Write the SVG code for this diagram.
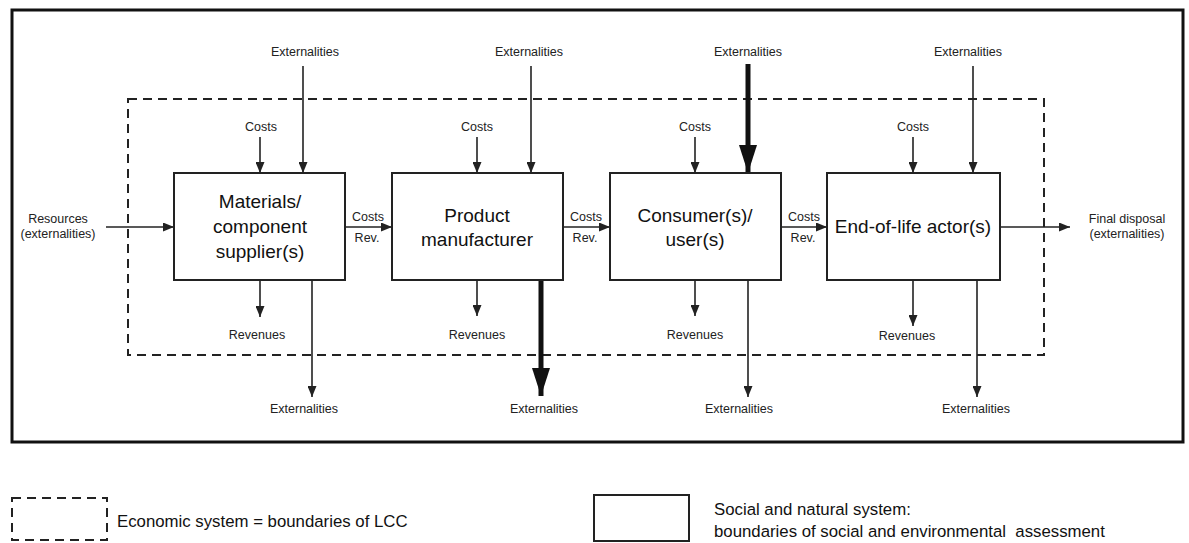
<svg xmlns="http://www.w3.org/2000/svg" width="1189" height="543" viewBox="0 0 1189 543">
  <defs>
    <style>
      .frame { fill: none; stroke: #111; stroke-width: 3; }
      .econ { fill: none; stroke: #222; stroke-width: 2; stroke-dasharray: 9 6; }
      .box { fill: #fff; stroke: #222; stroke-width: 2; }
      .flow { fill: none; stroke: #222; stroke-width: 1.6; marker-end: url(#arrow); }
      .heavy { fill: none; stroke: #111; stroke-width: 5; marker-end: url(#arrowBig); }
      .lbl { font-family: "Liberation Sans", Arial, sans-serif; font-size: 12.5px; fill: #222; text-anchor: middle; }
      .name { font-family: "Liberation Sans", Arial, sans-serif; font-size: 19px; fill: #111; text-anchor: middle; }
      .legend { font-family: "Liberation Sans", Arial, sans-serif; font-size: 16.8px; fill: #111; }
    </style>
    <marker id="arrow" markerUnits="userSpaceOnUse" markerWidth="12" markerHeight="9" refX="11" refY="4.5" orient="auto">
      <path d="M0,0 L11,4.5 L0,9 Z" fill="#222"/>
    </marker>
    <marker id="arrowBig" markerUnits="userSpaceOnUse" markerWidth="28" markerHeight="18" refX="28" refY="9" orient="auto">
      <path d="M0,0 L28,9 L0,18 Z" fill="#111"/>
    </marker>
  </defs>

  <rect width="1189" height="543" fill="#fff"/>

  <!-- social and natural system boundary -->
  <rect id="social-system" class="frame" x="12" y="10" width="1171" height="432"/>

  <!-- economic system boundary (LCC) -->
  <rect id="economic-system" class="econ" x="128" y="99" width="916" height="256"/>

  <!-- connectors -->
  <g id="connectors">
    <!-- inputs from outside -->
    <line class="flow" x1="106" y1="227" x2="174" y2="227"/>
    <line class="flow" x1="1000" y1="227" x2="1070" y2="227"/>
    <!-- chain links between actors -->
    <line class="flow" x1="345" y1="227" x2="392" y2="227"/>
    <line class="flow" x1="563" y1="227" x2="610" y2="227"/>
    <line class="flow" x1="781" y1="227" x2="827" y2="227"/>

    <!-- costs in -->
    <line class="flow" x1="260" y1="137" x2="260" y2="173"/>
    <line class="flow" x1="477" y1="137" x2="477" y2="173"/>
    <line class="flow" x1="695" y1="137" x2="695" y2="173"/>
    <line class="flow" x1="913" y1="137" x2="913" y2="173"/>

    <!-- externalities in -->
    <line class="flow" x1="303" y1="66" x2="303" y2="173"/>
    <line class="flow" x1="531" y1="66" x2="531" y2="173"/>
    <line class="heavy" x1="748" y1="64" x2="748" y2="173"/>
    <line class="flow" x1="973" y1="66" x2="973" y2="173"/>

    <!-- revenues out -->
    <line class="flow" x1="260" y1="280" x2="260" y2="317"/>
    <line class="flow" x1="477" y1="280" x2="477" y2="316"/>
    <line class="flow" x1="695" y1="280" x2="695" y2="316"/>
    <line class="flow" x1="913" y1="280" x2="913" y2="326"/>

    <!-- externalities out -->
    <line class="flow" x1="312" y1="280" x2="312" y2="397"/>
    <line class="heavy" x1="541" y1="278" x2="541" y2="396"/>
    <line class="flow" x1="748" y1="280" x2="748" y2="397"/>
    <line class="flow" x1="977" y1="280" x2="977" y2="397"/>
  </g>

  <!-- actors -->
  <g id="supplier">
    <rect class="box" x="174" y="173" width="171" height="107"/>
    <text class="name" x="260" y="208">Materials/</text>
    <text class="name" x="260" y="233">component</text>
    <text class="name" x="260" y="258">supplier(s)</text>
  </g>
  <g id="manufacturer">
    <rect class="box" x="392" y="173" width="171" height="107"/>
    <text class="name" x="477" y="222">Product</text>
    <text class="name" x="477" y="246">manufacturer</text>
  </g>
  <g id="consumer">
    <rect class="box" x="610" y="173" width="171" height="107"/>
    <text class="name" x="695" y="222">Consumer(s)/</text>
    <text class="name" x="695" y="246">user(s)</text>
  </g>
  <g id="end-of-life">
    <rect class="box" x="827" y="173" width="173" height="107"/>
    <text class="name" x="913" y="233">End-of-life actor(s)</text>
  </g>

  <!-- flow labels -->
  <g id="labels">
    <text class="lbl" x="58" y="223">Resources</text>
    <text class="lbl" x="58" y="238">(externalities)</text>
    <text class="lbl" x="1127" y="223">Final disposal</text>
    <text class="lbl" x="1127" y="238">(externalities)</text>

    <text class="lbl" x="368" y="221">Costs</text>
    <text class="lbl" x="367" y="242">Rev.</text>
    <text class="lbl" x="586" y="221">Costs</text>
    <text class="lbl" x="585" y="242">Rev.</text>
    <text class="lbl" x="804" y="221">Costs</text>
    <text class="lbl" x="803" y="242">Rev.</text>

    <text class="lbl" x="305" y="56">Externalities</text>
    <text class="lbl" x="529" y="56">Externalities</text>
    <text class="lbl" x="748" y="56">Externalities</text>
    <text class="lbl" x="968" y="56">Externalities</text>

    <text class="lbl" x="261" y="131">Costs</text>
    <text class="lbl" x="477" y="131">Costs</text>
    <text class="lbl" x="695" y="131">Costs</text>
    <text class="lbl" x="913" y="131">Costs</text>

    <text class="lbl" x="257" y="339">Revenues</text>
    <text class="lbl" x="477" y="339">Revenues</text>
    <text class="lbl" x="695" y="339">Revenues</text>
    <text class="lbl" x="907" y="340">Revenues</text>

    <text class="lbl" x="304" y="413">Externalities</text>
    <text class="lbl" x="544" y="413">Externalities</text>
    <text class="lbl" x="739" y="413">Externalities</text>
    <text class="lbl" x="976" y="413">Externalities</text>
  </g>

  <!-- legend -->
  <g id="legend-economic">
    <rect class="econ" x="12" y="498" width="95" height="42" stroke-width="1.6" stroke-dasharray="7 5"/>
    <text class="legend" x="117" y="527">Economic system = boundaries of LCC</text>
  </g>
  <g id="legend-social">
    <rect class="box" x="594" y="495" width="95" height="46"/>
    <text class="legend" x="714" y="515">Social and natural system:</text>
    <text class="legend" x="714" y="537" xml:space="preserve">boundaries of social and environmental  assessment</text>
  </g>
</svg>
